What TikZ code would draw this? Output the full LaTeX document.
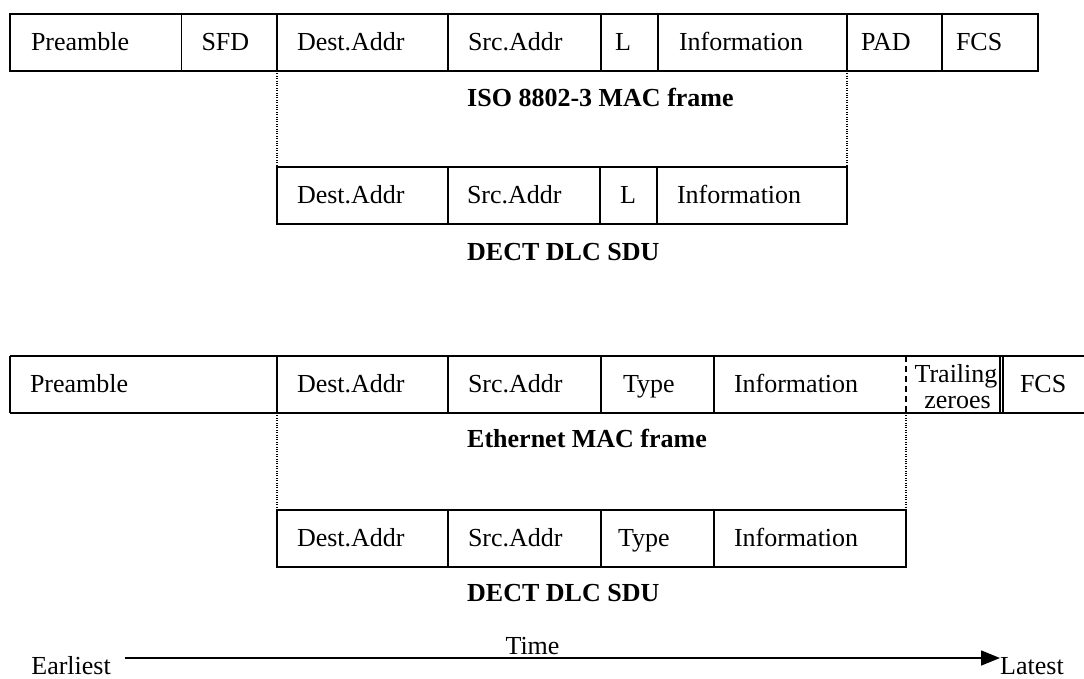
\documentclass[tikz,border=0pt]{standalone}
\usepackage{fontspec}
\setmainfont{Liberation Serif}
\usetikzlibrary{arrows.meta}
\begin{document}
\begin{tikzpicture}[x=1pt,y=-1pt,
  font=\fontsize{26pt}{26pt}\selectfont,
  cellbase/.style={anchor=north west, minimum height=57pt, inner ysep=0pt, outer sep=0pt,
    text height=20pt, text depth=5pt, align=left},
  cell/.style={cellbase, draw, line width=1.9pt},
  ecell/.style={cellbase},
  frameline/.style={line width=1.9pt},
  guide/.style={line width=1.1pt, dash pattern=on 1pt off 1.4pt},
  lbl/.style={font=\fontsize{26pt}{26pt}\selectfont\bfseries, anchor=base west, inner sep=0pt},
  plain/.style={inner sep=0pt}]
\useasboundingbox (0,0) rectangle (1084,678);

% ---- Row 1: ISO 8802-3 MAC frame ----
\node[cell, text width=129.5pt, inner xsep=21pt] (pre1) at (10,14) {Preamble};
\node[cell, text width=55.5pt, inner xsep=20pt] (sfd1) at (pre1.north east) {SFD};
\node[cell, text width=131pt, inner xsep=20pt] (dst1) at (sfd1.north east) {Dest.Addr};
\node[cell, text width=113pt, inner xsep=20pt] (src1) at (dst1.north east) {Src.Addr};
\node[cell, text width=29pt, inner xsep=14pt] (len1) at (src1.north east) {L};
\node[cell, text width=147pt, inner xsep=21pt] (inf1) at (len1.north east) {Information};
\node[cell, text width=67pt, inner xsep=14pt] (pad1) at (inf1.north east) {PAD};
\node[cell, text width=68pt, inner xsep=14pt] (fcs1) at (pad1.north east) {FCS};

\node[lbl] (iso) at (467,106) {ISO 8802-3 MAC frame};

% ---- Row 3: DECT DLC SDU (upper) ----
\node[cell, text width=131pt, inner xsep=20pt] (dst3) at (277,167) {Dest.Addr};
\node[cell, text width=114pt, inner xsep=19pt] (src3) at (dst3.north east) {Src.Addr};
\node[cell, text width=17pt, inner xsep=20pt] (len3) at (src3.north east) {L};
\node[cell, text width=150pt, inner xsep=20pt] (inf3) at (len3.north east) {Information};

\node[lbl] (dect1) at (467,260) {DECT DLC SDU};

\draw[guide] (dst1.south west) -- (dst3.north west);
\draw[guide] (inf1.south east) -- (inf3.north east);

% ---- Row 2: Ethernet MAC frame ----
\node[ecell, text width=227pt, inner xsep=20pt] (pre2) at (10,356) {Preamble};
\node[ecell, text width=131pt, inner xsep=20pt] (dst2) at (pre2.north east) {Dest.Addr};
\node[ecell, text width=113pt, inner xsep=20pt] (src2) at (dst2.north east) {Src.Addr};
\node[ecell, text width=69pt, inner xsep=22pt] (typ2) at (src2.north east) {Type};
\node[ecell, text width=152pt, inner xsep=20pt] (inf2) at (typ2.north east) {Information};
\node[ecell, minimum width=94pt, inner xsep=0pt] (trl2) at (inf2.north east) {};
\node[ecell, text width=53pt, inner xsep=17pt] (fcs2) at (1003,356) {FCS};
\node[plain, anchor=base] (trlA) at (956,382) {Trailing};
\node[plain, anchor=base] (trlB) at (957.5,408) {zeroes};

\draw[frameline] (pre2.north west) -- (fcs2.north east);
\draw[frameline] (pre2.south west) -- (fcs2.south east);
\draw[frameline] (pre2.north west) -- (pre2.south west);
\draw[frameline] (pre2.north east) -- (pre2.south east);
\draw[frameline] (dst2.north east) -- (dst2.south east);
\draw[frameline] (src2.north east) -- (src2.south east);
\draw[frameline] (typ2.north east) -- (typ2.south east);
\draw[line width=1.3pt, dash pattern=on 6pt off 4pt] (inf2.north east) -- (inf2.south east);
\draw[line width=1.4pt] (trl2.north east) -- (trl2.south east);
\draw[line width=1.4pt] (fcs2.north west) -- (fcs2.south west);
\draw[frameline] (fcs2.north east) -- (fcs2.south east);

\node[lbl] (eth) at (467,447) {Ethernet MAC frame};

% ---- Row 4: DECT DLC SDU (lower) ----
\node[cell, text width=131pt, inner xsep=20pt] (dst4) at (277,510) {Dest.Addr};
\node[cell, text width=113pt, inner xsep=20pt] (src4) at (dst4.north east) {Src.Addr};
\node[cell, text width=79pt, inner xsep=17pt] (typ4) at (src4.north east) {Type};
\node[cell, text width=152pt, inner xsep=20pt] (inf4) at (typ4.north east) {Information};

\node[lbl] (dect2) at (467,601) {DECT DLC SDU};

\draw[guide] (dst2.south west) -- (dst4.north west);
\draw[guide] (inf2.south east) -- (inf4.north east);

% ---- Time axis ----
\coordinate (tl) at (0,658);
\node[anchor=base east, inner xsep=13.5pt, inner ysep=0pt] (early) at (124.5,674) {Earliest};
\node[anchor=base west, inner sep=0pt] (late) at (1000,674) {Latest};
\node[anchor=base, inner sep=0pt] (time) at (532.5,654) {Time};
\draw[line width=1.5pt, -{Triangle[length=19pt,width=15pt]}] (early.east |- tl) -- (late.west |- tl);
\end{tikzpicture}
\end{document}
